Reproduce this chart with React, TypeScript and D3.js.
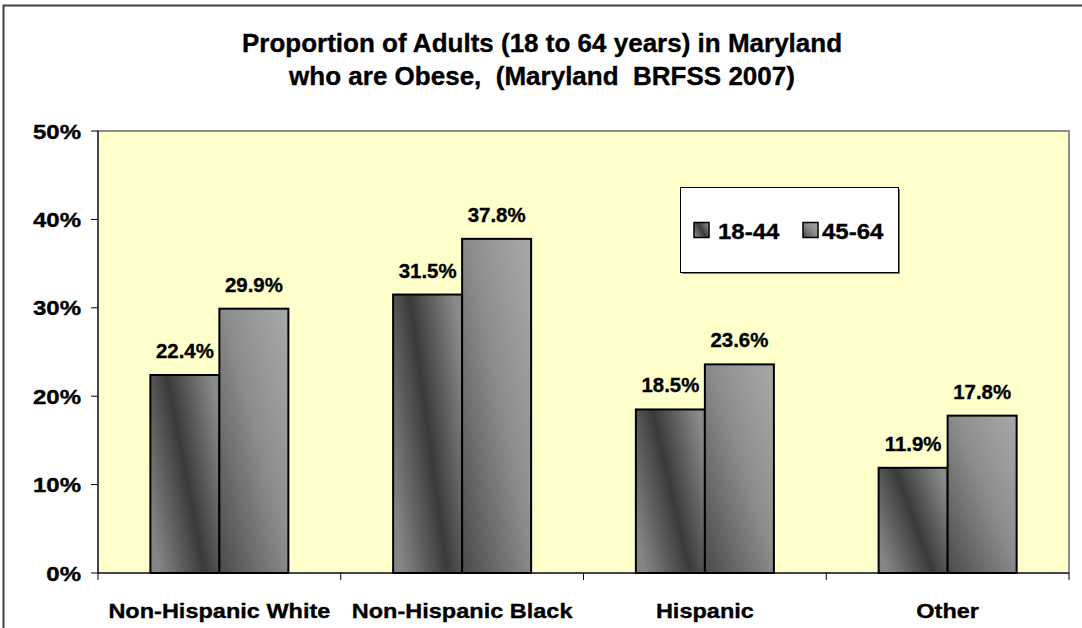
import React from "react";
import * as d3 from "d3";

const categories = ["Non-Hispanic White", "Non-Hispanic Black", "Hispanic", "Other"];
const seriesNames = ["18-44", "45-64"];
const values1844 = [22.4, 31.5, 18.5, 11.9];
const values4564 = [29.9, 37.8, 23.6, 17.8];
const yTicks = [0, 10, 20, 30, 40, 50];
const titleLines = ["Proportion of Adults (18 to 64 years) in Maryland", "who are Obese,  (Maryland  BRFSS 2007)"];

const W = 1082;
const H = 628;
const plot = { left: 98, top: 131, right: 1069, bottom: 573 };
const FONT = "Liberation Sans, Arial, sans-serif";

function T(props: { x: number; y: number; size: number; sx: number; anchor?: string; children: React.ReactNode }) {
  return (
    <text
      transform={`translate(${props.x},${props.y}) scale(${props.sx},1)`}
      textAnchor={props.anchor || "start"}
      fontFamily={FONT}
      fontWeight="bold"
      fontSize={props.size}
      fill="#000"
      stroke="#000"
      strokeWidth={0.35}
      style={{ whiteSpace: "pre" }}
    >
      {props.children}
    </text>
  );
}

export default function App() {
  const x = d3.scaleBand<string>().domain(categories).range([plot.left, plot.right]);
  const inner = d3.scaleBand<string>().domain(seriesNames).range([0, 138]);
  const y = d3.scaleLinear().domain([0, 50]).range([plot.bottom, plot.top]);
  const series = [values1844, values4564];
  const fills = ["url(#g1)", "url(#g2)"];
  const bw = inner.bandwidth();

  return (
    <svg width={W} height={H} style={{ position: "absolute", left: 0, top: 0, background: "#fff" }}>
      <defs>
        <linearGradient id="g1" x1="0" y1="0.75" x2="1" y2="0.2">
          <stop offset="0" stopColor="#858585" />
          <stop offset="0.5" stopColor="#3a3a3a" />
          <stop offset="1" stopColor="#8a8a8a" />
        </linearGradient>
        <linearGradient id="g2" x1="0" y1="1" x2="1" y2="0">
          <stop offset="0" stopColor="#4a4a4a" />
          <stop offset="0.55" stopColor="#8e8e8e" />
          <stop offset="1" stopColor="#a8a8a8" />
        </linearGradient>
      </defs>
      <rect x={3.5} y={5.5} width={W + 10} height={H + 10} fill="#fff" stroke="#404040" strokeWidth={2} />
      {titleLines.map((t, i) => (
        <T key={i} x={542} y={52 + i * 33} size={25.5} sx={1.02} anchor="middle">
          {t}
        </T>
      ))}
      <rect x={plot.left} y={plot.top} width={plot.right - plot.left} height={plot.bottom - plot.top} fill="#ffffcc" stroke="#8c8c8c" strokeWidth={2} />
      {categories.map((c, ci) =>
        series.map((vals, si) => {
          const x0 = (x(c) as number) + (x.bandwidth() - 138) / 2 + (inner(seriesNames[si]) as number);
          const yv = y(vals[ci]);
          return (
            <g key={c + si}>
              <rect x={x0} y={yv} width={bw} height={plot.bottom - yv} fill={fills[si]} stroke="#000" strokeWidth={2} />
              <T x={x0 + bw / 2} y={yv - 17} size={20} sx={1.02} anchor="middle">
                {vals[ci].toFixed(1) + "%"}
              </T>
            </g>
          );
        })
      )}
      <line x1={plot.left} x2={plot.left} y1={plot.top} y2={plot.bottom} stroke="#000" strokeWidth={1} />
      <line x1={plot.left} x2={plot.right} y1={plot.bottom} y2={plot.bottom} stroke="#000" strokeWidth={1} />
      {yTicks.map((t) => (
        <g key={t}>
          <line x1={plot.left - 7} x2={plot.left} y1={y(t)} y2={y(t)} stroke="#000" />
          <T x={81} y={y(t) + 7.5} size={20} sx={1.2} anchor="end">
            {t + "%"}
          </T>
        </g>
      ))}
      {categories.map((c, i) => (
        <line key={"xt" + i} x1={x(c) as number} x2={x(c) as number} y1={plot.bottom} y2={plot.bottom + 7} stroke="#000" />
      ))}
      <line x1={plot.right} x2={plot.right} y1={plot.bottom} y2={plot.bottom + 7} stroke="#000" />
      {categories.map((c) => (
        <T key={"xl" + c} x={(x(c) as number) + x.bandwidth() / 2} y={617.5} size={21} sx={1.12} anchor="middle">
          {c}
        </T>
      ))}
      <rect x={682} y={189} width={218} height={85} fill="#808080" />
      <rect x={680.5} y={187.5} width={218} height={85} fill="#fff" stroke="#000" strokeWidth={1} />
      {seriesNames.map((s, i) => (
        <g key={s}>
          <rect x={694 + i * 109} y={222.5} width={15} height={15} fill={fills[i]} stroke="#000" strokeWidth={1.5} />
          <T x={718 + i * 104} y={239} size={22} sx={1.09}>
            {s}
          </T>
        </g>
      ))}
    </svg>
  );
}
